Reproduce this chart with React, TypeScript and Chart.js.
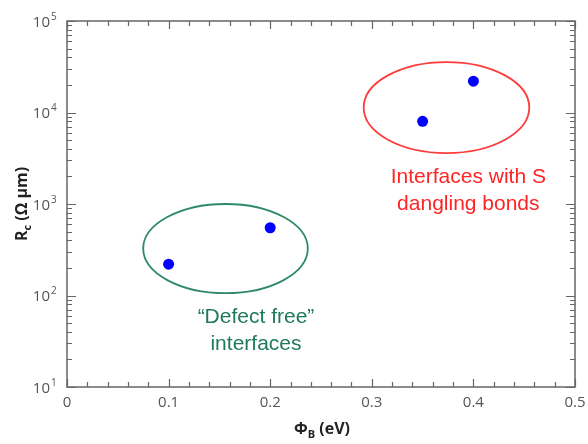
import React, { useEffect, useRef } from "react";
import { Chart, registerables } from "chart.js";

Chart.register(...registerables);

// ---- data ----
const barrierHeights = [0.1, 0.2, 0.35, 0.4]; // Φ_B (eV)
const contactResistance = [220, 550, 8000, 22000]; // R_c (Ω µm)

// ---- axes ----
const xTickValues = [0, 0.1, 0.2, 0.3, 0.4, 0.5];
const xTickLabels = ["0", "0.1", "0.2", "0.3", "0.4", "0.5"];
const yDecadeExponents = [1, 2, 3, 4, 5];

// ---- annotations (data units) ----
const groupLines1 = ["\u201CDefect free\u201D", "Interfaces with S"];
const groupLines2 = ["interfaces", "dangling bonds"];
const groupTextColors = ["#1f7a5c", "#ff2424"];
const groupEllipseColors = ["#2f8a6b", "#ff3b3b"];
const ellipseXMin = [0.075, 0.292];
const ellipseXMax = [0.237, 0.455];
const ellipseYMin = [106, 3600];
const ellipseYMax = [1000, 35600];
const labelX = [0.186, 0.395];
const labelY1 = [50, 1700];
const labelY2 = [25.4, 860];

const TICK_FONT = '15px "Open Sans", "DejaVu Sans", sans-serif';
const SUP_FONT = '10px "Open Sans", "DejaVu Sans", sans-serif';
const TITLE_FONT = 'bold 16px "Open Sans", "DejaVu Sans", sans-serif';
const SUBT_FONT = 'bold 11px "Open Sans", "DejaVu Sans", sans-serif';
const NOTE_FONT = '21px "Liberation Sans", Arial, sans-serif';

type Seg = { t: string; sub?: boolean };

function drawRich(ctx: CanvasRenderingContext2D, segs: Seg[], cx: number, cy: number) {
  let total = 0;
  const widths = segs.map((s) => {
    ctx.font = s.sub ? SUBT_FONT : TITLE_FONT;
    const w = ctx.measureText(s.t).width;
    total += w;
    return w;
  });
  let x = cx - total / 2;
  ctx.textAlign = "left";
  ctx.textBaseline = "alphabetic";
  segs.forEach((s, i) => {
    ctx.font = s.sub ? SUBT_FONT : TITLE_FONT;
    ctx.fillText(s.t, x, s.sub ? cy + 4 : cy);
    x += widths[i];
  });
}

const decorPlugin = {
  id: "decor",
  beforeDatasetsDraw(chart: any) {
    const { ctx, chartArea: a, scales } = chart;
    const xs = scales.x;
    const ys = scales.y;
    ctx.save();
    ctx.strokeStyle = "#666";
    ctx.lineWidth = 1.5;
    ctx.strokeRect(a.left, a.top, a.right - a.left, a.bottom - a.top);

    ctx.lineWidth = 1.2;
    ctx.beginPath();
    // x ticks every 0.02
    for (let i = 0; i <= 25; i++) {
      const v = i * 0.02;
      const px = Math.round(xs.getPixelForValue(v)) + 0.5;
      const major = i % 5 === 0;
      const len = major ? 8 : 5;
      ctx.moveTo(px, a.bottom);
      ctx.lineTo(px, a.bottom - len);
      ctx.moveTo(px, a.top);
      ctx.lineTo(px, a.top + len);
    }
    // y log ticks
    for (let e = 1; e <= 4; e++) {
      for (let m = 1; m <= 10; m++) {
        const v = m * Math.pow(10, e);
        const py = Math.round(ys.getPixelForValue(v)) + 0.5;
        const major = m === 1 || m === 10;
        const len = major ? 9 : 5;
        ctx.moveTo(a.left, py);
        ctx.lineTo(a.left + len, py);
        ctx.moveTo(a.right, py);
        ctx.lineTo(a.right - len, py);
      }
    }
    ctx.stroke();

    // x tick labels
    ctx.fillStyle = "#555";
    ctx.font = TICK_FONT;
    ctx.textAlign = "center";
    ctx.textBaseline = "middle";
    xTickValues.forEach((v, i) => {
      ctx.fillText(xTickLabels[i], xs.getPixelForValue(v), a.bottom + 16);
    });

    // y tick labels 10^n
    yDecadeExponents.forEach((e) => {
      const py = ys.getPixelForValue(Math.pow(10, e));
      ctx.font = TICK_FONT;
      ctx.textAlign = "right";
      ctx.textBaseline = "middle";
      ctx.fillText("10", a.left - 17, py + 1.5);
      ctx.font = SUP_FONT;
      ctx.textAlign = "left";
      ctx.fillText(String(e), a.left - 16, py - 4);
    });

    // axis titles
    ctx.fillStyle = "#222";
    drawRich(ctx, [{ t: "\u03A6" }, { t: "B", sub: true }, { t: " (eV)" }], (a.left + a.right) / 2 + 1, 434);
    ctx.save();
    ctx.translate(27, (a.top + a.bottom) / 2);
    ctx.rotate(-Math.PI / 2);
    drawRich(ctx, [{ t: "R" }, { t: "c", sub: true }, { t: " (\u03A9 \u03BCm)" }], 0, 0);
    ctx.restore();
    ctx.restore();
  },
  afterDatasetsDraw(chart: any) {
    const { ctx, scales } = chart;
    const xs = scales.x;
    const ys = scales.y;
    ctx.save();
    for (let g = 0; g < 2; g++) {
      const x1 = xs.getPixelForValue(ellipseXMin[g]);
      const x2 = xs.getPixelForValue(ellipseXMax[g]);
      const y1 = ys.getPixelForValue(ellipseYMax[g]);
      const y2 = ys.getPixelForValue(ellipseYMin[g]);
      ctx.beginPath();
      ctx.ellipse((x1 + x2) / 2, (y1 + y2) / 2, (x2 - x1) / 2, (y2 - y1) / 2, 0, 0, Math.PI * 2);
      ctx.strokeStyle = groupEllipseColors[g];
      ctx.lineWidth = 1.8;
      ctx.stroke();

      ctx.fillStyle = groupTextColors[g];
      ctx.font = NOTE_FONT;
      ctx.textAlign = "center";
      ctx.textBaseline = "alphabetic";
      const lx = xs.getPixelForValue(labelX[g]);
      ctx.fillText(groupLines1[g], lx, ys.getPixelForValue(labelY1[g]));
      ctx.fillText(groupLines2[g], lx, ys.getPixelForValue(labelY2[g]));
    }
    ctx.restore();
  },
};

export default function App() {
  const ref = useRef<HTMLCanvasElement>(null);
  useEffect(() => {
    document.body.style.margin = "0";
    const canvas = ref.current;
    if (!canvas) return;
    const chart = new Chart(canvas, {
      type: "scatter",
      data: {
        datasets: [
          {
            data: barrierHeights.map((x, i) => ({ x, y: contactResistance[i] })),
            backgroundColor: "#0000ff",
            borderWidth: 0,
            pointRadius: 5.5,
            pointHoverRadius: 5.5,
          },
        ],
      },
      options: {
        responsive: false,
        animation: false,
        devicePixelRatio: 1,
        layout: { padding: { left: 67, right: 13, top: 21, bottom: 57 } },
        plugins: { legend: { display: false }, tooltip: { enabled: false } },
        scales: {
          x: { type: "linear", display: false, min: 0, max: 0.5 },
          y: { type: "logarithmic", display: false, min: 10, max: 100000 },
        },
      },
      plugins: [decorPlugin],
    });
    return () => chart.destroy();
  }, []);
  return (
    <div style={{ width: 588, height: 444, background: "#fff" }}>
      <canvas ref={ref} width={588} height={444} style={{ display: "block" }} />
    </div>
  );
}
